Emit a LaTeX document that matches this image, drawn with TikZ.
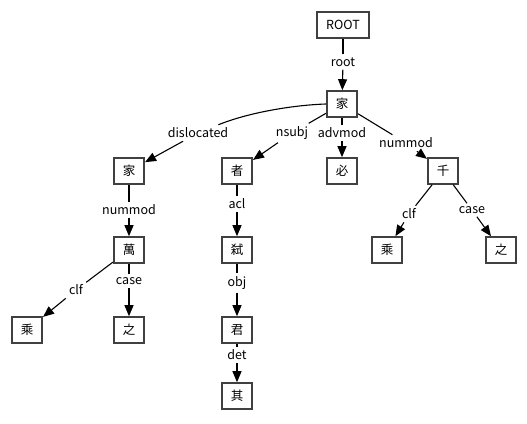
\documentclass[tikz,border=0pt]{standalone}
\usepackage{fontspec}
\setmainfont{Noto Sans CJK JP}
\usetikzlibrary{arrows.meta}
\tikzset{
  wbox/.style={draw=black!75, line width=1.6pt, minimum width=27pt, minimum height=26pt, inner xsep=9pt, inner ysep=0pt, font=\fontsize{12.5}{14}\selectfont},
  elab/.style={inner sep=3pt, font=\fontsize{12.5}{14}\selectfont},
  eline/.style={line width=1.1pt, black},
  earr/.style={eline, -{Triangle[length=11pt,width=9pt]}}
}
\begin{document}
\begin{tikzpicture}[x=1pt,y=-1pt]
\useasboundingbox (0,0) rectangle (527,423);
% nodes
\node[wbox] (root) at (343,25) {ROOT};
\node[wbox] (jia) at (342,104) {家};
\node[wbox] (jia2) at (129,171) {家};
\node[wbox] (zhe) at (237,171) {者};
\node[wbox] (bi) at (342,171) {必};
\node[wbox] (qian) at (443,171) {千};
\node[wbox] (wan) at (129,250) {萬};
\node[wbox] (shi) at (237,250) {弑};
\node[wbox] (cheng2) at (387,250) {乘};
\node[wbox] (zhi2) at (501,250) {之};
\node[wbox] (cheng1) at (27,330) {乘};
\node[wbox] (zhi1) at (129,330) {之};
\node[wbox] (jun) at (237,330) {君};
\node[wbox] (qi) at (237,396) {其};
% labels
\node[elab] (lroot) at (343,62) {root};
\node[elab] (ldisl) at (198,133) {dislocated};
\node[elab] (lnsubj) at (292,133) {nsubj};
\node[elab] (ladvmod) at (342,133) {advmod};
\node[elab] (lnummodA) at (406,143) {nummod};
\node[elab] (lnummodB) at (129,210) {nummod};
\node[elab] (lacl) at (237,204) {acl};
\node[elab] (lobj) at (237,283) {obj};
\node[elab] (ldet) at (237,355) {det};
\node[elab] (lclfA) at (76,290) {clf};
\node[elab] (lcaseA) at (129,281) {case};
\node[elab] (lclfB) at (409,214) {clf};
\node[elab] (lcaseB) at (472,210) {case};
% edges
\draw[eline] (root) -- (lroot); \draw[earr] (lroot) -- (jia);
\draw[eline] (jia.west) .. controls (295,105) and (250,112) .. (ldisl);
\draw[earr] (ldisl) -- (jia2);
\draw[eline] (jia) -- (lnsubj); \draw[earr] (lnsubj) -- (zhe);
\draw[eline] (jia) -- (ladvmod); \draw[earr] (ladvmod) -- (bi);
\draw[eline] (jia) -- (lnummodA); \draw[earr] (lnummodA) -- (qian);
\draw[eline] (jia2) -- (lnummodB); \draw[earr] (lnummodB) -- (wan);
\draw[eline] (zhe) -- (lacl); \draw[earr] (lacl) -- (shi);
\draw[eline] (shi) -- (lobj); \draw[earr] (lobj) -- (jun);
\draw[eline] (jun) -- (ldet); \draw[earr] (ldet) -- (qi);
\draw[eline] (wan) -- (lclfA); \draw[earr] (lclfA) -- (cheng1);
\draw[eline] (wan) -- (lcaseA); \draw[earr] (lcaseA) -- (zhi1);
\draw[eline] (qian) -- (lclfB); \draw[earr] (lclfB) -- (cheng2);
\draw[eline] (qian) -- (lcaseB); \draw[earr] (lcaseB) -- (zhi2);
\end{tikzpicture}
\end{document}
